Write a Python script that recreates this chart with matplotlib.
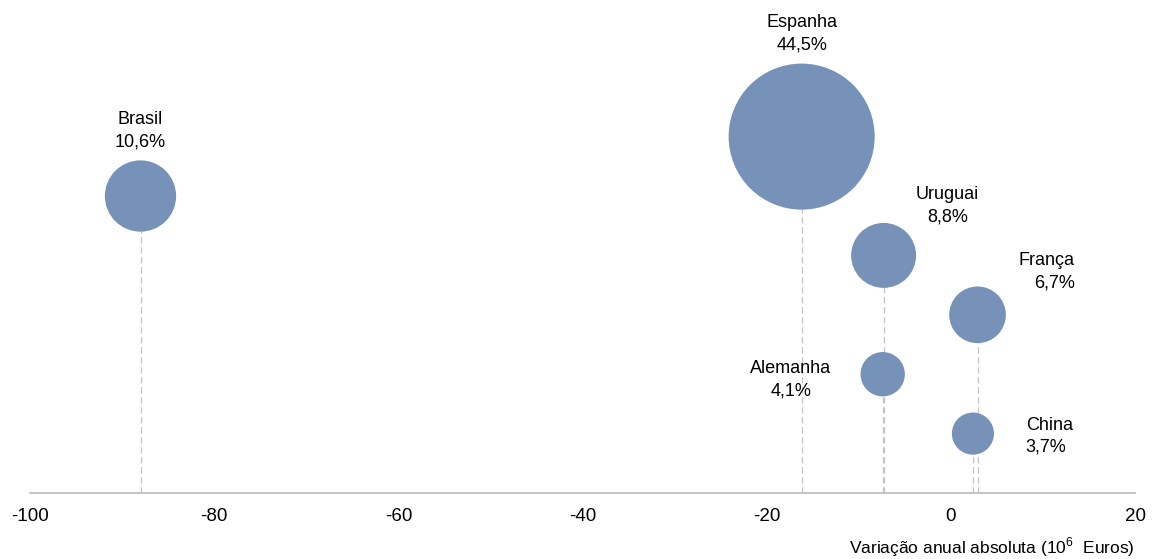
import matplotlib
matplotlib.use("Agg")
import matplotlib.pyplot as plt

plt.rcParams["font.family"] = ["Liberation Sans", "DejaVu Sans"]
plt.rcParams["axes.unicode_minus"] = False
plt.rcParams["mathtext.fontset"] = "custom"
plt.rcParams["mathtext.rm"] = "Liberation Sans"

# dados
paises = ["China", "Alemanha", "França", "Uruguai", "Brasil", "Espanha"]
variacao = [2.4, -7.4, 2.9, -7.3, -88.0, -16.2]   # variacao anual absoluta (10^6 EUR)
quota = [3.7, 4.1, 6.7, 8.8, 10.6, 44.5]          # peso (%)
nivel = [1, 2, 3, 4, 5, 6]                        # posicao vertical

BLUE = "#7692b8"
GREY = "#c4c4c4"

# deslocamento do rotulo em pontos e alinhamento
LBL = {
    "China":    ((38, -2), "left"),
    "Alemanha": ((-66, -4), "center"),
    "França":   ((70, 31), "right"),
    "Uruguai":  ((46, 36), "center"),
    "Brasil":   ((0, 47), "center"),
    "Espanha":  ((0, 74), "center"),
}

fig = plt.figure(figsize=(11.61, 5.59), dpi=100)
ax = fig.add_axes([30 / 1161, 66 / 559, 1105 / 1161, 1 - 66 / 559])

ax.vlines(variacao, 0, nivel, colors=GREY, linestyles=(0, (5, 3)), lw=0.9, zorder=1)
ax.scatter(variacao, nivel, s=[q * 248.5 for q in quota], color=BLUE,
           edgecolors="none", zorder=2)

for nome, x, y, q in zip(paises, variacao, nivel, quota):
    (dx, dy), ha = LBL[nome]
    ax.annotate(f"{nome}\n{q:.1f}%".replace(".", ","), (x, y), xytext=(dx, dy),
                textcoords="offset points", ha=ha, va="center", multialignment=ha,
                fontsize=13, color="black", linespacing=1.4)

ax.set_xlim(-100, 20)
ax.set_ylim(0, 8.3)
ax.set_xticks(range(-100, 21, 20))
ax.set_yticks([])
for s in ("top", "right", "left"):
    ax.spines[s].set_visible(False)
ax.spines["bottom"].set_color("#bfbfbf")
ax.spines["bottom"].set_linewidth(1.3)
ax.tick_params(axis="x", length=0, pad=11, labelsize=13.5)
ax.set_xlabel("Variação anual absoluta (10$^6$  Euros)", loc="right",
              fontsize=12.5, labelpad=7)

fig.savefig("out.png", dpi=100, facecolor="white")
